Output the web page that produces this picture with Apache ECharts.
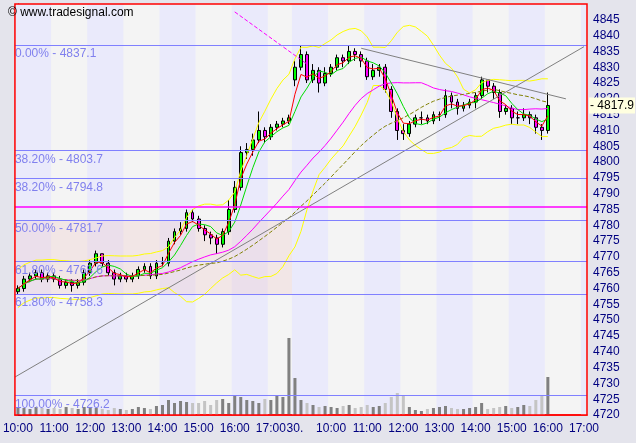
<!DOCTYPE html>
<html><head><meta charset="utf-8">
<script src="https://cdn.jsdelivr.net/npm/echarts@6/dist/echarts.min.js"></script>
<style>html,body{margin:0;padding:0;background:#e4e4ec}#c{width:636px;height:443px}</style>
</head><body><div id="c"></div>
<script>
// Day 1: 10:00..17:30, Day 2: 09:00..16:00 (10-minute bars)
const day1Times = ['10:00','10:10','10:20','10:30','10:40','10:50','11:00','11:10','11:20','11:30','11:40','11:50','12:00','12:10','12:20','12:30','12:40','12:50','13:00','13:10','13:20','13:30','13:40','13:50','14:00','14:10','14:20','14:30','14:40','14:50','15:00','15:10','15:20','15:30','15:40','15:50','16:00','16:10','16:20','16:30','16:40','16:50','17:00','17:10','17:20','17:30'];
const day2Times = ['09:00','09:10','09:20','09:30','09:40','09:50','10:00','10:10','10:20','10:30','10:40','10:50','11:00','11:10','11:20','11:30','11:40','11:50','12:00','12:10','12:20','12:30','12:40','12:50','13:00','13:10','13:20','13:30','13:40','13:50','14:00','14:10','14:20','14:30','14:40','14:50','15:00','15:10','15:20','15:30','15:40','15:50','16:00'];
const padTimes = ['16:10','16:20','16:30','16:40','16:50','17:00'];
const closes = [4760,4763,4764,4765,4763,4764, 4763,4761,4762,4761,4762,4765, 4768,4771,4768,4765,4763,4764, 4763,4764,4766,4767,4764,4768, 4768,4775,4778,4779,4784,4782, 4779,4777,4776,4774,4778,4785, 4792,4803,4804,4807,4810,4808, 4811,4812,4813,4814,
 4830,4834,4826,4829,4825,4828, 4830,4833,4832,4835,4834,4832, 4827,4829,4830,4823,4816,4810, 4809,4812,4814,4814,4813,4815, 4815,4821,4819,4817,4818,4819, 4821,4826,4824,4822,4816,4817, 4814,4814,4815,4814,4811,4810, 4817.9];
const opens = [4759,4760,4763,4764,4765,4763, 4764,4763,4761,4762,4761,4762, 4765,4768,4771,4768,4765,4763, 4764,4763,4764,4766,4767,4764, 4768,4768,4775,4778,4779,4784, 4782,4779,4777,4776,4774,4778, 4785,4792,4803,4804,4807,4810, 4808,4811,4812,4813,
 4826,4830,4834,4826,4829,4825, 4828,4830,4833,4832,4835,4834, 4832,4827,4829,4830,4823,4816, 4810,4809,4812,4814,4814,4813, 4815,4815,4821,4819,4817,4818, 4819,4821,4826,4824,4822,4816, 4817,4814,4814,4815,4814,4811, 4810];
const highs = [4761,4764,4765,4766,4766,4765, 4765,4764,4763,4763,4763,4766, 4769,4772,4771,4769,4766,4765, 4765,4765,4767,4768,4768,4769, 4770,4776,4779,4781,4785,4785, 4783,4780,4778,4777,4779,4788, 4794,4805,4806,4809,4816,4811, 4812,4813,4814,4815,
 4832,4837,4835,4831,4830,4830, 4831,4834,4834,4837,4836,4835, 4833,4831,4831,4831,4824,4817, 4812,4813,4815,4816,4815,4816, 4816,4823,4822,4820,4819,4820, 4822,4827,4826,4825,4823,4818, 4818,4816,4817,4816,4815,4812, 4822];
const lows = [4758,4759,4762,4763,4762,4762, 4762,4760,4760,4759,4760,4761, 4764,4767,4767,4764,4761,4762, 4762,4762,4763,4765,4763,4763, 4767,4767,4774,4777,4778,4781, 4778,4775,4774,4771,4773,4777, 4784,4791,4801,4802,4806,4806, 4807,4810,4811,4812,
 4824,4829,4825,4825,4822,4824, 4827,4829,4830,4831,4832,4830, 4826,4826,4827,4822,4814,4807, 4807,4808,4811,4812,4812,4812, 4813,4814,4817,4815,4816,4817, 4817,4820,4822,4820,4814,4815, 4812,4812,4813,4812,4809,4807, 4809];
const volumes = [8,7,6,8,7,6, 7,6,8,7,6,8, 8,7,6,5,7,6, 5,6,8,7,6,9, 10,15,12,14,13,12, 12,14,10,15,16,12, 20,18,15,14,12,16, 15,20,18,77,
 37,15,12,10,8,9, 8,7,9,10,7,8, 10,8,9,12,18,22, 20,8,5,4,6,7, 8,9,7,6,6,7, 8,12,6,7,8,9, 7,8,10,9,15,20, 38];
const fibLevels = [[4837.1,'0.00% - 4837.1'],[4803.7,'38.20% - 4803.7'],[4794.8,'38.20% - 4794.8'],[4781.7,'50.00% - 4781.7'],[4768.6,'61.80% - 4768.6'],[4758.3,'61.80% - 4758.3'],[4726.2,'100.00% - 4726.2']];
const magentaLevel = 4786;
const lastPrice = 4817.9;

const cats = day1Times.concat(day2Times, padTimes);
const N = cats.length;
const dayStart = day1Times.length;
const isHour = i => cats[i].endsWith(':00') || i===dayStart;
const ohlc = closes.map((c,i)=>[opens[i],c,lows[i],highs[i]]);
function sma(n){ return closes.map((_,i)=>{const s=Math.max(0,i-n+1);let t=0;for(let k=s;k<=i;k++)t+=closes[k];return +(t/(i-s+1)).toFixed(2);}); }
function boll(n,m,sign){ return closes.map((_,i)=>{const s=Math.max(0,i-n+1);const a=closes.slice(s,i+1);const mu=a.reduce((x,y)=>x+y,0)/a.length;const sd=Math.sqrt(a.reduce((x,y)=>x+(y-mu)*(y-mu),0)/a.length);return +(mu+sign*m*Math.max(sd,3)).toFixed(2);}); }
function ema(n){ const k=2/(n+1);let e=closes[0];return closes.map(c=>{e=c*k+e*(1-k);return +e.toFixed(2);}); }

const bounds=[0];
for(let i=1;i<N;i++) if(isHour(i)) bounds.push(i);
bounds.push(N);
const stripes=[];
for(let b=0;b<bounds.length-1;b+=2) stripes.push([{xAxis:bounds[b]-0.5},{xAxis:bounds[b+1]-0.5}]);
const volColors = closes.map((c,i)=> c>=opens[i] ? '#808080' : '#c4c4c4');
const hl = (a,b,color,type)=>[{coord:a,lineStyle:{color:color,width:1,type:type},label:{show:false}},{coord:b}];

const chart = echarts.init(document.getElementById('c'));
chart.setOption({
  backgroundColor:'#e4e4ec',
  animation:false,
  grid:{left:3,right:49,top:4,bottom:28,show:true,backgroundColor:'#f4f4f4',borderWidth:0},
  xAxis:[{type:'category',data:cats,boundaryGap:true,
    axisLine:{lineStyle:{color:'#ff0000',width:1.5}},
    axisTick:{interval:isHour,lineStyle:{color:'#000080'},length:4},
    axisLabel:{interval:isHour,formatter:(v,i)=> i===dayStart?'30.':v,color:'#000080',fontFamily:'Arial',fontSize:12,margin:8},
    splitLine:{show:false}},
    {type:'value',min:-0.5,max:N-0.5,show:false}],
  yAxis:[{type:'value',position:'right',min:4720,max:4850,interval:5,
    axisLine:{show:true,lineStyle:{color:'#000080',type:'dotted'}},axisTick:{show:true,length:4,lineStyle:{color:'#000080'}},
    axisLabel:{color:'#000080',fontFamily:'Arial',fontSize:12,margin:6,formatter:v=>v<4850?String(v):''},
    splitLine:{show:false}},
    {type:'value',min:0,max:411,show:false}],
  series:[
    {type:'line',xAxisIndex:1,data:[],markArea:{silent:true,itemStyle:{color:'#eaeafb'},data:stripes}},
    {type:'line',xAxisIndex:1,data:[],markArea:{silent:true,itemStyle:{color:'rgba(240,200,200,0.3)'},
      data:[[{xAxis:-0.5,yAxis:4781.7},{xAxis:dayStart-0.5,yAxis:4758.3}]]}},
    {type:'bar',yAxisIndex:1,data:volumes.map((v,i)=>({value:v,itemStyle:{color:volColors[i]}})),barWidth:'50%'},
    {type:'line',data:boll(14,2,1),symbol:'none',lineStyle:{color:'#ffff00',width:1}},
    {type:'line',data:boll(14,2,-1),symbol:'none',lineStyle:{color:'#ffff00',width:1}},
    {type:'line',data:sma(22),symbol:'none',lineStyle:{color:'#ff00ff',width:1}},
    {type:'line',data:sma(34),symbol:'none',lineStyle:{color:'#808000',width:1,type:'dashed'}},
    {type:'line',data:sma(5),symbol:'none',lineStyle:{color:'#00dd00',width:1}},
    {type:'line',data:ema(3),symbol:'none',lineStyle:{color:'#ff0000',width:1}},
    {type:'line',xAxisIndex:1,data:[],markLine:{silent:true,symbol:'none',data:[
        hl([-0.5,4732],[N-1,4836.5],'#808080','solid'),
        hl([57,4836],[91,4820],'#808080','solid'),
        hl([36,4847.5],[48,4831],'#ff00ff','dashed')]}},
    {type:'candlestick',data:ohlc,barWidth:'55%',
     itemStyle:{color:'#00ff00',color0:'#ff00ff',borderColor:'#000',borderColor0:'#000',borderWidth:1},
     markLine:{silent:true,symbol:'none',
      data:[
        ...fibLevels.map(f=>({yAxis:f[0],lineStyle:{color:'#8080ff',width:1.2,type:'solid'},
          label:{show:true,position:'insideStartBottom',formatter:f[1],color:'#8080ee',fontFamily:'Arial',fontSize:12,distance:[0,3]}})),
        {yAxis:magentaLevel,lineStyle:{color:'#ff00ff',width:1.5,type:'solid'},label:{show:false}}
      ]}}
  ]
});
const tl = chart.convertToPixel({xAxisIndex:1,yAxisIndex:0},[-0.5,4850]);
const br = chart.convertToPixel({xAxisIndex:1,yAxisIndex:0},[N-0.5,4720]);
const py = chart.convertToPixel({yAxisIndex:0},lastPrice);
chart.setOption({graphic:[
  {type:'rect',z:100,silent:true,shape:{x:tl[0],y:tl[1],width:br[0]-tl[0],height:br[1]-tl[1]},style:{fill:null,stroke:'#ff0000',lineWidth:1.5}},
  {type:'text',left:8,top:7,z:100,style:{text:'© www.tradesignal.com',font:'12px Arial',fill:'#000'}},
  {type:'text',x:br[0]+2,y:py,z:100,style:{text:'- '+lastPrice.toFixed(1),font:'12px Arial',fill:'#000',backgroundColor:'#ffffe0',padding:[2,1],verticalAlign:'middle'}}
]});
</script></body></html>
